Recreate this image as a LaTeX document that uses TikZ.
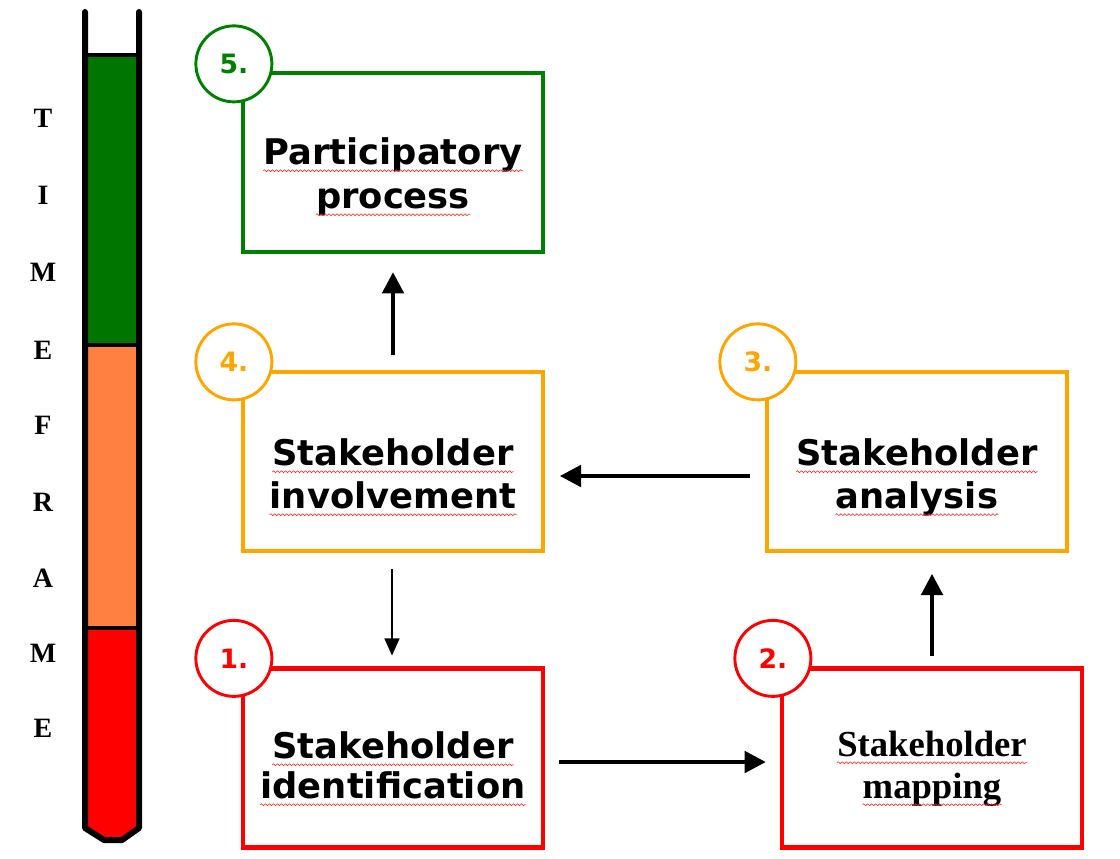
\documentclass[tikz,border=0pt]{standalone}
\usepackage{fontspec}
\setmainfont{Liberation Serif}
\newfontfamily\vsans{DejaVu Sans}
\usetikzlibrary{arrows.meta,calc,decorations.pathmorphing}
\definecolor{bgreen}{RGB}{0,128,0}
\definecolor{tgreen}{RGB}{0,118,0}
\definecolor{borange}{RGB}{255,165,0}
\definecolor{torange}{RGB}{255,128,64}
\definecolor{bred}{RGB}{255,0,0}
\tikzset{
  box/.style={draw=#1, line width=3.2pt, minimum width=225pt, minimum height=134.25pt, inner sep=0pt},
  numc/.style={circle, draw=#1, line width=2.2pt, fill=white, minimum size=57pt, inner sep=0pt,
     text=#1, font=\vsans\bfseries\fontsize{20}{20}\selectfont},
  stxt/.style={anchor=base, inner sep=0pt, font=\vsans\bfseries\fontsize{26.5}{26.5}\selectfont},
  rtxt/.style={anchor=base, inner sep=0pt, font=\bfseries\fontsize{27.5}{27.5}\selectfont},
  tl/.style={anchor=center, inner sep=0pt, font=\bfseries\fontsize{21}{21}\selectfont},
  squig/.style={draw=red!85, line width=0.45pt, decorate, decoration={snake, amplitude=0.7pt, segment length=3pt}},
  arr/.style={line width=3.2pt, -{Triangle[length=16pt, width=16pt]}},
  tarr/.style={line width=2pt, -{Triangle[length=13pt, width=11pt]}},
}
\newcommand{\squigline}[1]{\draw[squig] ([yshift=-5pt]#1.base west) -- ([yshift=-5pt]#1.base east);}
\begin{document}
\begin{tikzpicture}[x=0.75pt,y=-0.75pt]
\useasboundingbox[fill=white] (0,0) rectangle (1120,858);
% time tube
\fill[tgreen] (85,55) rectangle (139,345);
\fill[torange] (85,345) rectangle (139,628);
\fill[bred] (85,628) -- (139,628) -- (139,828) -- (122,840) -- (104,840) -- (85,828) -- cycle;
\draw[line width=3pt] (85,55) -- (139,55);
\draw[line width=3pt] (85,345) -- (139,345);
\draw[line width=3pt] (85,628) -- (139,628);
\draw[line width=4.5pt, line join=round, line cap=round] (85,12) -- (85,828) -- (104,840) -- (122,840) -- (139,828) -- (139,12);
\foreach \l/\yy [count=\i] in {T/118, I/195, M/272, E/350, F/425, R/502, A/578, M/653, E/728}
  \node[tl] (tl\i) at (43,\yy) {\l};
% boxes
\node[box=bgreen] (b5) at (393,162.5) {};
\node[box=borange] (b4) at (393,461.5) {};
\node[box=borange] (b3) at (917,461.5) {};
\node[box=bred] (b1) at (393,758) {};
\node[box=bred] (b2) at (932,758) {};
% numbers
\node[numc=bgreen] (n5) at ($(b5.north west)+(-7,-7)$) {5.};
\node[numc=borange] (n4) at ($(b4.north west)+(-7,-8)$) {4.};
\node[numc=borange] (n3) at ($(b3.north west)+(-7,-8)$) {3.};
\node[numc=bred] (n1) at ($(b1.north west)+(-7,-8)$) {1.};
\node[numc=bred] (n2) at ($(b2.north west)+(-7,-8)$) {2.};
% texts
\node[stxt] (t5a) at (393,164) {Participatory};
\node[stxt] (t5b) at (393,208) {process};
\node[stxt] (t4a) at (393,465) {Stakeholder};
\node[stxt] (t4b) at (393,508) {involvement};
\node[stxt] (t3a) at (917,465) {Stakeholder};
\node[stxt] (t3b) at (917,508) {analysis};
\node[stxt] (t1a) at (393,758) {Stakeholder};
\node[stxt] (t1b) at (393,798) {identification};
\node[rtxt] (t2a) at (932,756) {Stakeholder};
\node[rtxt] (t2b) at (932,798) {mapping};
\foreach \t in {t5a,t5b,t4a,t4b,t3a,t3b,t1a,t1b,t2a,t2b} {\squigline{\t}}
% arrows
\draw[arr, shorten <=11pt, shorten >=13.5pt] (b4.north) -- (b5.south);
\draw[arr, shorten <=11pt, shorten >=11pt] ($(b3.west)+(0,14.5)$) -- ($(b4.east)+(0,14.5)$);
\draw[tarr, shorten <=12pt, shorten >=8pt] ($(b4.south)+(-1,0)$) -- ($(b1.north)+(-1,0)$);
\draw[arr, shorten <=10.5pt, shorten >=10.5pt] ($(b1.east)+(0,4)$) -- ($(b2.west)+(0,4)$);
\draw[arr, shorten <=8pt, shorten >=15.5pt] (b2.north) -- (b2.north |- b3.south);
\end{tikzpicture}
\end{document}
